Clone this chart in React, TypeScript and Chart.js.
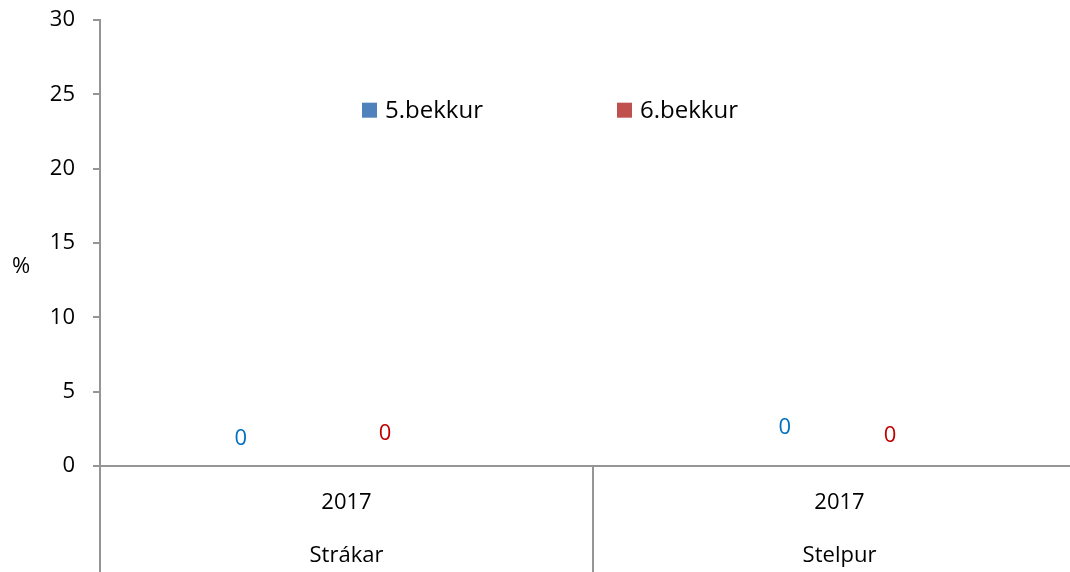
import React, { useEffect, useRef } from "react";
import { Chart, registerables } from "chart.js";

Chart.register(...registerables);

// ---- data ----
const groupLabels = ["Strákar", "Stelpur"];
const yearLabels = ["2017", "2017"];
const seriesNames = ["5.bekkur", "6.bekkur"];
const values5 = [0, 0];
const values6 = [0, 0];
const yMin = 0;
const yMax = 30;
const yStep = 5;
const yAxisTitle = "%";

// ---- style ----
const FONT = "'Open Sans', 'Noto Sans', sans-serif";
const AXIS_COLOR = "#959595";
const AXIS_WIDTH = 2;
const barColors = ["#4F81BD", "#C0504D"];
const labelColors = ["#0070C0", "#C00000"];
// manual data label nudges (px) per dataset per category, relative to the bar centre / base
const labelNudges = [
  [{ dx: -7, dy: -27 }, { dx: 44, dy: -38 }],
  [{ dx: -60, dy: -32 }, { dx: -48, dy: -30 }],
];

const overlayPlugin = {
  id: "overlay",
  afterDraw(chart: any) {
    const { ctx, chartArea, scales } = chart;
    const x = scales.x;
    const y = scales.y;
    ctx.save();

    // category separators below the axis
    ctx.strokeStyle = AXIS_COLOR;
    ctx.lineWidth = AXIS_WIDTH;
    const n = groupLabels.length;
    for (let i = 0; i <= n; i++) {
      const px = Math.round(x.getPixelForValue(i - 0.5));
      ctx.beginPath();
      ctx.moveTo(px, chartArea.bottom);
      ctx.lineTo(px, chart.height);
      ctx.stroke();
    }

    // y axis title (horizontal)
    ctx.fillStyle = "#000";
    ctx.font = `22px ${FONT}`;
    ctx.textAlign = "center";
    ctx.textBaseline = "middle";
    ctx.fillText(yAxisTitle, 21, y.getPixelForValue(13.4));

    // data labels
    chart.data.datasets.forEach((ds: any, di: number) => {
      const meta = chart.getDatasetMeta(di);
      meta.data.forEach((bar: any, i: number) => {
        const nudge = labelNudges[di][i];
        ctx.fillStyle = labelColors[di];
        ctx.font = `22px ${FONT}`;
        ctx.textAlign = "center";
        ctx.textBaseline = "middle";
        ctx.fillText(String(ds.data[i]), bar.x + nudge.dx, bar.y + nudge.dy);
      });
    });

    // legend inside plot area
    const legendY = y.getPixelForValue(23.9);
    const legendXs = [362, 617];
    ctx.font = `24px ${FONT}`;
    ctx.textAlign = "left";
    ctx.textBaseline = "middle";
    seriesNames.forEach((name, i) => {
      const lx = legendXs[i];
      ctx.fillStyle = barColors[i];
      ctx.fillRect(lx, legendY - 8, 15, 15);
      ctx.fillStyle = "#000";
      ctx.fillText(name, lx + 23, legendY);
    });

    ctx.restore();
  },
};

export default function App() {
  const canvasRef = useRef<HTMLCanvasElement | null>(null);

  useEffect(() => {
    const prevMargin = document.body.style.margin;
    document.body.style.margin = "0";
    document.body.style.overflow = "hidden";
    const canvas = canvasRef.current;
    if (!canvas) return;
    const chart = new Chart(canvas, {
      type: "bar",
      data: {
        labels: yearLabels.map((yr, i) => [yr, groupLabels[i]]),
        datasets: [
          { label: seriesNames[0], data: values5, backgroundColor: barColors[0] },
          { label: seriesNames[1], data: values6, backgroundColor: barColors[1] },
        ],
      },
      options: {
        animation: false,
        responsive: false,
        maintainAspectRatio: false,
        layout: { padding: { top: 20, right: 4, left: 0, bottom: 0 } },
        plugins: {
          legend: { display: false },
          tooltip: { enabled: false },
        },
        scales: {
          x: {
            offset: true,
            grid: { display: false, drawTicks: false, offset: true },
            border: { display: true, color: AXIS_COLOR, width: AXIS_WIDTH },
            ticks: {
              color: "#000",
              padding: 10,
              maxRotation: 0,
              autoSkip: false,
              font: { family: FONT, size: 22, lineHeight: "53px" as any },
            },
            afterFit: (scale: any) => {
              scale.height = 106;
              scale.paddingLeft = 0;
              scale.paddingRight = 0;
            },
          },
          y: {
            min: yMin,
            max: yMax,
            grid: {
              display: true,
              drawOnChartArea: false,
              drawTicks: true,
              tickLength: 7,
              color: AXIS_COLOR,
              lineWidth: AXIS_WIDTH,
            },
            border: { display: true, color: AXIS_COLOR, width: AXIS_WIDTH },
            ticks: {
              stepSize: yStep,
              color: "#000",
              padding: 18,
              font: { family: FONT, size: 22 },
            },
            afterFit: (scale: any) => {
              scale.width = 100;
              scale.paddingTop = 0;
              scale.paddingBottom = 0;
            },
          },
        },
      },
      plugins: [overlayPlugin],
    });
    return () => {
      chart.destroy();
      document.body.style.margin = prevMargin;
    };
  }, []);

  return (
    <div style={{ position: "fixed", left: 0, top: 0, width: 1070, height: 572, overflow: "hidden", background: "#fff" }}>
      <canvas ref={canvasRef} width={1090} height={572} style={{ display: "block", width: 1090, height: 572 }} />
    </div>
  );
}
